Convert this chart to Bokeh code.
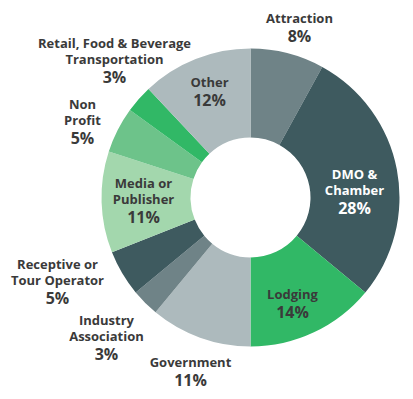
import numpy as np
from bokeh.plotting import figure
from bokeh.models import Range1d, ColumnDataSource
from bokeh.core.properties import value
from bokeh.embed import file_html
from bokeh.resources import INLINE

categories = ["Attraction", "DMO & Chamber", "Lodging", "Government", "Industry Association",
              "Receptive or Tour Operator", "Media or Publisher", "Non Profit",
              "Retail, Food & Beverage Transportation", "Other"]
shares = [8, 28, 14, 11, 3, 5, 11, 5, 3, 12]
label_lines = [["Attraction"], ["DMO &", "Chamber"], ["Lodging"], ["Government"],
               ["Industry", "Association"], ["Receptive or", "Tour Operator"],
               ["Media or", "Publisher"], ["Non", "Profit"],
               ["Retail, Food & Beverage", "Transportation"], ["Other"]]
colors = ["#6f8387", "#3e5a5f", "#31b866", "#adbabd", "#6f8387",
          "#3e5a5f", "#a3d7ad", "#6dc38a", "#31b866", "#adbabd"]
text_colors = ["#3a3a3a", "#ffffff", "#3a3a3a", "#3a3a3a", "#3a3a3a",
               "#3a3a3a", "#3a3a3a", "#3a3a3a", "#3a3a3a", "#3a3a3a"]
# label anchor (x, y of first line) in image pixels
anchors = [(299, 17), (354, 173), (292, 293), (190, 361), (106, 319),
           (57, 263), (143, 182), (82, 103), (114, 42), (209, 81)]

W, H = 405, 391
p = figure(width=W, height=H, output_backend="svg", toolbar_location=None,
           x_range=Range1d(0, W), y_range=Range1d(0, H), min_border=0)
p.axis.visible = False
p.grid.visible = False
p.outline_line_color = None

cx, cy = 250, H - 197
fr = np.array(shares, dtype=float) / sum(shares)
c1 = np.cumsum(fr)
c0 = c1 - fr
src = ColumnDataSource(dict(start=np.pi / 2 - 2 * np.pi * c0, end=np.pi / 2 - 2 * np.pi * c1,
                            color=colors))
p.annular_wedge(x=cx, y=cy, inner_radius=60, outer_radius=149, start_angle="start",
                end_angle="end", direction="clock", fill_color="color", line_color=None,
                source=src)

lx, ly, lt, lc = [], [], [], []
px, py, pt, pc = [], [], [], []
for lines, share, (ax, ay), tc in zip(label_lines, shares, anchors, text_colors):
    for i, ln in enumerate(lines):
        lx.append(ax); ly.append(H - (ay + 16.5 * i)); lt.append(ln); lc.append(tc)
    px.append(ax); py.append(H - (ay + 16.5 * len(lines) + 1.5)); pt.append(f"{share}%"); pc.append(tc)

p.text(x=lx, y=ly, text=lt, text_color=lc, text_align="center", text_baseline="middle",
       text_font=value("Open Sans"), text_font_style="bold", text_font_size="13px")
p.text(x=px, y=py, text=pt, text_color=pc, text_align="center", text_baseline="middle",
       text_font=value("Open Sans"), text_font_style="bold", text_font_size="16px")

open("out.html", "w").write(file_html(p, INLINE))
